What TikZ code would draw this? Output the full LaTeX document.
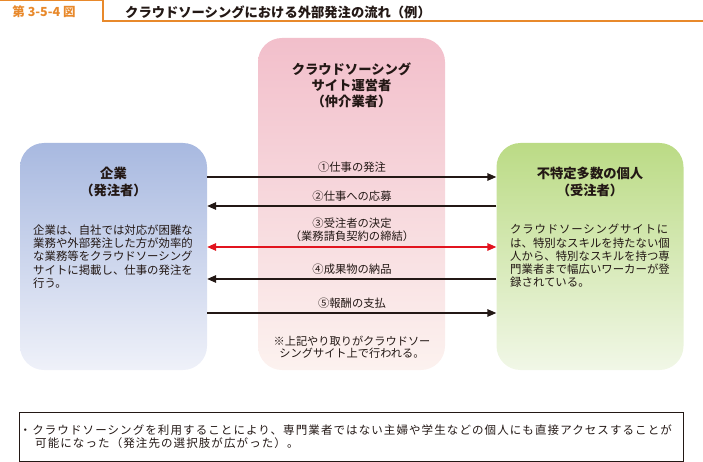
\documentclass[tikz,border=0pt]{standalone}
\usepackage{fontspec}
\setmainfont{Noto Sans CJK JP}
\newfontfamily\jpwide[LetterSpace=9.5]{Noto Sans CJK JP}
\newfontfamily\jpjust[LetterSpace=7.3]{Noto Sans CJK JP}
\usetikzlibrary{arrows.meta}
\definecolor{orng}{HTML}{E8892B}
\definecolor{txt}{HTML}{231815}
\definecolor{btop}{HTML}{A8B9E0}
\definecolor{bbot}{HTML}{EFF1F9}
\definecolor{ptop}{HTML}{F2BFCB}
\definecolor{pbot}{HTML}{FCF2EF}
\definecolor{gtop}{HTML}{BBDB85}
\definecolor{gbot}{HTML}{F1F7E7}
\definecolor{redarr}{HTML}{E2141F}
\newcommand\jlp{{\addfontfeature{RawFeature=+halt}（}}
\newcommand\jrp{{\addfontfeature{RawFeature=+halt}）}}
\begin{document}
\begin{tikzpicture}[x=1pt,y=-1pt,
  every node/.append style={text=txt, inner sep=0pt},
  rbox/.style={rounded corners=24pt, minimum width=187pt},
  head/.style={font=\bfseries\fontsize{13.3}{17}\selectfont, align=center},
  body/.style={font=\fontsize{11.4}{13.3}\selectfont, align=left, anchor=west},
  lab/.style={font=\fontsize{11.3}{13}\selectfont, align=center},
  arr/.style={line width=1.5pt, draw=txt, -{Triangle[length=9pt,width=7.5pt]}},
  rarr/.style={line width=1.5pt, draw=redarr, {Triangle[length=9pt,width=7.5pt]}-{Triangle[length=9pt,width=7.5pt]}}
]
\useasboundingbox (0,0) rectangle (703,462);
% title bar
\draw[orng, line width=1.2pt] (0,0.6) -- (103,0.6) -- (103,21) -- (703,21);
\node[font=\bfseries\fontsize{12.5}{14}\selectfont, text=orng] (fig) at (44,12) {第 3-5-4 図};
\node[anchor=west, font=\bfseries\fontsize{13.3}{15}\selectfont] (title) at (125,12) {クラウドソーシングにおける外部発注の流れ（例）};
% boxes
\node[rbox, minimum height=332pt, top color=ptop, bottom color=pbot] (mid) at (351.5,204) {};
\node[rbox, minimum height=227pt, top color=btop, bottom color=bbot] (corp) at (113.5,256.5) {};
\node[rbox, minimum height=227pt, top color=gtop, bottom color=gbot] (indiv) at (590,256.5) {};
% headings
\node[head] (corpH) at (113.5,181.5) {企業\\\jlp 発注者\jrp};
\node[head] (indivH) at (590,181.5) {不特定多数の個人\\\jlp 受注者\jrp};
\node[head, font=\bfseries\fontsize{13.3}{16}\selectfont] (midH) at (351.5,85) {クラウドソーシング\\サイト運営者\\\jlp 仲介業者\jrp};
% bodies
\node[body] (corpT) at (33,256.5) {企業は、自社では対応が困難な\\業務や外部発注した方が効率的\\な業務等をクラウドソーシング\\サイトに掲載し、仕事の発注を\\行う。};
\node[body] (indivT) at (510,256) {{\jpjust クラウドソーシングサイトに}\\は、特別なスキルを持たない個\\人から、特別なスキルを持つ専\\門業者まで幅広いワーカーが登\\録されている。};
% arrow labels
\node[lab] (l1) at (352,167) {①仕事の発注};
\node[lab] (l2) at (352,196) {②仕事への応募};
\node[lab] (l3) at (352,229.5) {③受注者の決定\\\jlp 業務請負契約の締結\jrp};
\node[lab] (l4) at (352,269) {④成果物の納品};
\node[lab] (l5) at (352,303) {⑤報酬の支払};
\node[lab, font=\fontsize{11.2}{11.6}\selectfont] (note) at (352,347.5) {※上記やり取りがクラウドソー\\シングサイト上で行われる。};
% arrow levels
\coordinate (y1) at (352,177);
\coordinate (y2) at (352,206);
\coordinate (y3) at (352,247);
\coordinate (y4) at (352,279);
\coordinate (y5) at (352,313);
\draw[arr] (corp.east |- y1) -- (indiv.west |- y1);
\draw[arr] (indiv.west |- y2) -- (corp.east |- y2);
\draw[rarr] (corp.east |- y3) -- (indiv.west |- y3);
\draw[arr] (indiv.west |- y4) -- (corp.east |- y4);
\draw[arr] (corp.east |- y5) -- (indiv.west |- y5);
% summary box
\node[draw=txt, line width=0.9pt, minimum width=664pt, minimum height=49pt] (sum) at (351,436.5) {};
\node[anchor=west, align=left, font=\jpwide\fontsize{11.5}{13.3}\selectfont] (sumT) at (19.5,436.5) {・クラウドソーシングを利用することにより、専門業者ではない主婦や学生などの個人にも直接アクセスすることが\\\hspace*{15.5pt}可能になった（発注先の選択肢が広がった）。};
\end{tikzpicture}
\end{document}
